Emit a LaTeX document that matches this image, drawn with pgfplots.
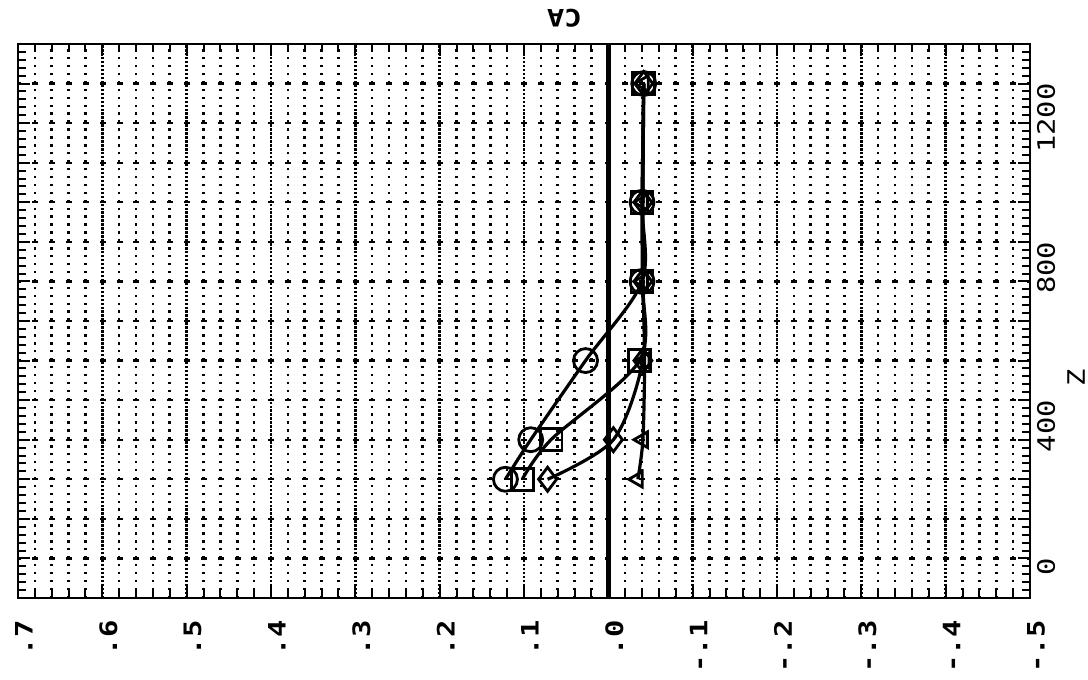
\documentclass[border=0pt]{standalone}
\usepackage{pgfplots}
\pgfplotsset{compat=1.18}
\usepackage{fontspec}
\newfontfamily\pf[FakeStretch=1.2]{DejaVu Sans Mono}
\begin{document}
\begin{tikzpicture}
\useasboundingbox (0,0) rectangle (544pt,340pt);
\begin{axis}[
  at={(9pt,41pt)}, anchor=south west,
  scale only axis, width=506pt, height=277pt,
  xmin=-0.5, xmax=0.7, ymin=0, ymax=1400,
  x dir=reverse,
  xtick={-0.5,-0.4,-0.3,-0.2,-0.1,0,0.1,0.2,0.3,0.4,0.5,0.6,0.7},
  xticklabels={-.5,-.4,-.3,-.2,-.1,.0,.1,.2,.3,.4,.5,.6,.7},
  minor x tick num=4,
  ytick={0,100,...,1400},
  yticklabels={0,,,,400,,,,800,,,,1200,,},
  minor y tick num=4,
  xtick pos=both, ytick pos=both, yticklabel pos=right, xticklabel pos=lower,
  tick align=inside,
  major tick length=6pt, minor tick length=4pt,
  tick style={black, line width=1pt},
  axis line style={black, line width=1pt},
  xmajorgrids, xminorgrids, ymajorgrids,
  major x grid style={black, line width=1.3pt, dash pattern=on 1.2pt off 0.78pt},
  minor x grid style={black, line width=1.3pt, dash pattern=on 1.2pt off 2.76pt},
  major y grid style={black, line width=1.1pt, dash pattern=on 3pt off 5.43pt, dash phase=1.5pt},
  xticklabel style={font=\pf\bfseries\fontsize{12}{14}\selectfont, xshift=3pt, yshift=-11pt, rotate=90, anchor=east, inner sep=0pt},
  yticklabel style={font=\pf\fontsize{12}{14}\selectfont, xshift=12.5pt, yshift=20pt, rotate=90, anchor=base east, inner sep=0pt},
  xlabel={CA}, ylabel={Z},
  every axis x label/.style={at={(axis description cs:0.54,1.047)}, anchor=center, rotate=180, font=\pf\bfseries\fontsize{12}{14}\selectfont},
  every axis y label/.style={at={(axis description cs:1.0455,0.397)}, anchor=center, rotate=90, font=\pf\fontsize{12}{14}\selectfont},
  every axis plot/.append style={black, line width=1.6pt},
]
\addplot[black, line width=2.3pt, mark=none] coordinates {(0,0) (0,1400)};
% circles
\addplot[smooth, mark=o, mark size=6pt, mark options={solid, fill=white, line width=1.4pt}]
  coordinates {(0.122,300) (0.092,400) (0.027,600) (-0.040,800) (-0.040,1000) (-0.042,1300)};
% squares
\addplot[smooth, mark=square, mark size=5.5pt, mark options={solid, fill=white, line width=1.4pt}]
  coordinates {(0.102,300) (0.068,400) (-0.037,600) (-0.040,800) (-0.040,1000) (-0.042,1300)};
% diamonds
\addplot[smooth, mark=diamond, mark size=6pt, mark options={solid, fill=white, line width=1.4pt}]
  coordinates {(0.072,300) (-0.006,400) (-0.041,600) (-0.041,800) (-0.041,1000) (-0.042,1300)};
% triangles
\addplot[smooth, mark=triangle, mark size=4.5pt, mark options={solid, fill=white, line width=1.4pt, rotate=90}]
  coordinates {(-0.035,300) (-0.041,400) (-0.043,600) (-0.041,800) (-0.041,1000) (-0.042,1300)};
\end{axis}
\end{tikzpicture}
\end{document}
